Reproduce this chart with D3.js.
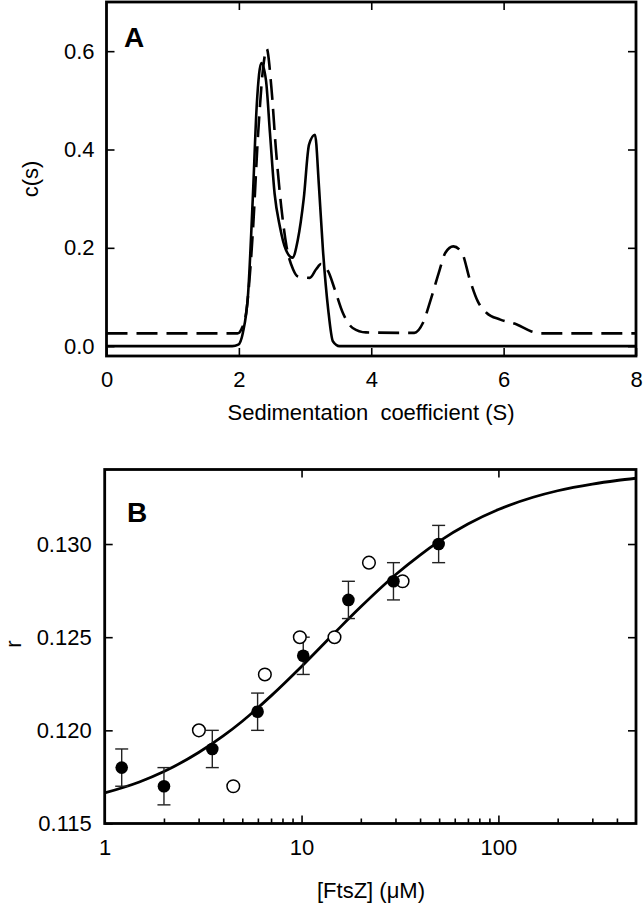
<!DOCTYPE html>
<html>
<head>
<meta charset="utf-8">
<script src="https://cdn.jsdelivr.net/npm/d3@7"></script>
<style>
  body { margin: 0; background: #fff; }
  svg { display: block; }
  text { font-family: "Liberation Sans", Arial, sans-serif; fill: #000; }
</style>
</head>
<body>
<svg id="chart" width="644" height="906"></svg>
<script>
// ---------- Panel A data: c(s) distributions ----------
const solidS = [0, 1.9, 1.99, 2.06, 2.14, 2.21, 2.27, 2.34, 2.41, 2.47, 2.54, 2.62, 2.71, 2.81, 2.89, 2.98, 3.06, 3.15, 3.21, 3.27, 3.35, 3.42, 3.52, 8];
const solidC = [0, 0, 0.003, 0.027, 0.108, 0.30, 0.49, 0.576, 0.54, 0.433, 0.31, 0.243, 0.196, 0.18, 0.216, 0.30, 0.41, 0.43, 0.325, 0.196, 0.074, 0.01, 0, 0];

const dashS = [0, 1.98, 2.04, 2.11, 2.21, 2.29, 2.37, 2.42, 2.49, 2.56, 2.64, 2.72, 2.82, 2.89, 3.07, 3.17, 3.24, 3.35, 3.45, 3.57, 3.72, 3.92, 4.65, 4.78, 4.90, 5.02, 5.12, 5.24, 5.37, 5.49, 5.61, 5.74, 5.95, 6.2, 6.42, 6.57, 8];
const dashC = [0.026, 0.026, 0.035, 0.068, 0.23, 0.43, 0.57, 0.605, 0.528, 0.40, 0.284, 0.203, 0.156, 0.142, 0.139, 0.157, 0.167, 0.152, 0.115, 0.068, 0.037, 0.028, 0.027, 0.047, 0.095, 0.149, 0.19, 0.203, 0.19, 0.135, 0.091, 0.068, 0.054, 0.044, 0.030, 0.026, 0.026];

const aXTicks = [0, 2, 4, 6, 8];
const aYTicks = [0.0, 0.2, 0.4, 0.6];

// ---------- Panel B data: anisotropy r vs [FtsZ] ----------
const filledX = [1.22, 2.0, 3.52, 5.98, 10.2, 17.3, 29.3, 49.7];
const filledR = [0.118, 0.117, 0.119, 0.121, 0.124, 0.127, 0.128, 0.130];
const filledErr = [0.001, 0.001, 0.001, 0.001, 0.001, 0.001, 0.001, 0.001];

const openX = [3.01, 4.5, 6.51, 9.8, 14.7, 22.0, 32.6];
const openR = [0.120, 0.117, 0.123, 0.125, 0.125, 0.129, 0.128];

const fitX = [1, 1.5, 2, 3, 4, 5, 7, 10, 15, 20, 30, 40, 50, 70, 100, 150, 200, 300, 400, 500];
const fitR = [0.11664, 0.11723, 0.11779, 0.11881, 0.11970, 0.12049, 0.12185, 0.12343, 0.12532, 0.12663, 0.12835, 0.12941, 0.13014, 0.13107, 0.13185, 0.13251, 0.13286, 0.13322, 0.13341, 0.13353];

const bXTicks = [1, 10, 100];
const bXMinor = [2,3,4,5,6,7,8,9,20,30,40,50,60,70,80,90,200,300,400];
const bYTicks = [0.115, 0.120, 0.125, 0.130];

// ---------- drawing ----------
const svg = d3.select("#chart");
const FS = 22;

function frame(g, x0, y0, x1, y1) {
  g.append("rect").attr("x", x0).attr("y", y0).attr("width", x1 - x0).attr("height", y1 - y0)
    .attr("fill", "none").attr("stroke", "#000").attr("stroke-width", 2.8);
}
function styleAxis(sel, withText) {
  sel.select(".domain").remove();
  sel.selectAll(".tick line").attr("stroke", "#000").attr("stroke-width", 1.6);
  sel.selectAll(".tick text").style("font-size", FS + "px").style("font-family", '"Liberation Sans", Arial, sans-serif').attr("fill", "#000");
  if (!withText) sel.selectAll(".tick text").remove();
}

// Panel A
const A = { l: 106.5, r: 636, t: 2, b: 356 };
const xA = d3.scaleLinear().domain([0, 8]).range([A.l, A.r]);
const yA = d3.scaleLinear().domain([-0.02, 0.7]).range([A.b, A.t]);
const gA = svg.append("g");

svg.append("defs").append("clipPath").attr("id", "clipA").append("rect")
  .attr("x", A.l).attr("y", A.t).attr("width", A.r - A.l).attr("height", A.b - A.t);

const lineA = d3.line().x(d => xA(d[0])).y(d => yA(d[1])).curve(d3.curveMonotoneX);
gA.append("path").datum(dashS.map((s, i) => [s, dashC[i]]))
  .attr("d", lineA).attr("fill", "none").attr("stroke", "#000").attr("stroke-width", 2.6)
  .attr("stroke-dasharray", "21,9").attr("clip-path", "url(#clipA)");
gA.append("path").datum(solidS.map((s, i) => [s, solidC[i]]))
  .attr("d", lineA).attr("fill", "none").attr("stroke", "#000").attr("stroke-width", 2.6)
  .attr("clip-path", "url(#clipA)");

gA.append("g").attr("transform", `translate(0,${A.b})`)
  .call(d3.axisBottom(xA).tickValues(aXTicks).tickFormat(d3.format("d")).tickSize(-8).tickPadding(15.5))
  .call(s => styleAxis(s, true));
gA.append("g").attr("transform", `translate(0,${A.t})`)
  .call(d3.axisTop(xA).tickValues(aXTicks.slice(1, -1)).tickSize(-8))
  .call(s => styleAxis(s, false));
gA.append("g").attr("transform", `translate(${A.l},0)`)
  .call(d3.axisLeft(yA).tickValues(aYTicks).tickFormat(d3.format(".1f")).tickSize(-8).tickPadding(12))
  .call(s => styleAxis(s, true));
gA.append("g").attr("transform", `translate(${A.r},0)`)
  .call(d3.axisRight(yA).tickValues(aYTicks).tickSize(-8))
  .call(s => styleAxis(s, false));
frame(gA, A.l, A.t, A.r, A.b);

gA.append("text").attr("x", 124).attr("y", 47).style("font-size", "28px").style("font-weight", "bold").text("A");
gA.append("text").attr("x", 371).attr("y", 420).attr("text-anchor", "middle")
  .style("font-size", FS + "px").style("white-space", "pre").attr("xml:space", "preserve").text("Sedimentation  coefficient (S)");
gA.append("text").attr("transform", "translate(38,179) rotate(-90)").attr("text-anchor", "middle")
  .style("font-size", FS + "px").text("c(s)");

// Panel B
const B = { l: 104.7, r: 636, t: 469.5, b: 823.5 };
const xB = d3.scaleLog().domain([1, 500]).range([B.l, B.r]);
const yB = d3.scaleLinear().domain([0.115, 0.134]).range([B.b, B.t]);
const gB = svg.append("g");

svg.select("defs").append("clipPath").attr("id", "clipB").append("rect")
  .attr("x", B.l).attr("y", B.t).attr("width", B.r - B.l).attr("height", B.b - B.t);

const lineB = d3.line().x(d => xB(d[0])).y(d => yB(d[1])).curve(d3.curveMonotoneX);
gB.append("path").datum(fitX.map((x, i) => [x, fitR[i]]))
  .attr("d", lineB).attr("fill", "none").attr("stroke", "#000").attr("stroke-width", 2.8)
  .attr("clip-path", "url(#clipB)");

// error bars
const eb = gB.append("g").attr("stroke", "#222").attr("stroke-width", 1.4);
filledX.forEach((x, i) => {
  const cx = xB(x), y1 = yB(filledR[i] - filledErr[i]), y2 = yB(filledR[i] + filledErr[i]);
  eb.append("line").attr("x1", cx).attr("x2", cx).attr("y1", y1).attr("y2", y2);
  eb.append("line").attr("x1", cx - 6.5).attr("x2", cx + 6.5).attr("y1", y1).attr("y2", y1);
  eb.append("line").attr("x1", cx - 6.5).attr("x2", cx + 6.5).attr("y1", y2).attr("y2", y2);
});

gB.append("g").selectAll("circle").data(openX.map((x, i) => [x, openR[i]])).join("circle")
  .attr("cx", d => xB(d[0])).attr("cy", d => yB(d[1])).attr("r", 6.3)
  .attr("fill", "#fff").attr("stroke", "#000").attr("stroke-width", 1.5);
gB.append("g").selectAll("circle").data(filledX.map((x, i) => [x, filledR[i]])).join("circle")
  .attr("cx", d => xB(d[0])).attr("cy", d => yB(d[1])).attr("r", 6.3).attr("fill", "#000");

gB.append("g").attr("transform", `translate(0,${B.b})`)
  .call(d3.axisBottom(xB).tickValues(bXTicks).tickFormat(d3.format("d")).tickSize(-8).tickPadding(16))
  .call(s => styleAxis(s, true));
gB.append("g").attr("transform", `translate(0,${B.b})`)
  .call(d3.axisBottom(xB).tickValues(bXMinor).tickSize(-5))
  .call(s => styleAxis(s, false));
gB.append("g").attr("transform", `translate(0,${B.t})`)
  .call(d3.axisTop(xB).tickValues([10, 100]).tickSize(-8))
  .call(s => styleAxis(s, false));
gB.append("g").attr("transform", `translate(${B.l},0)`)
  .call(d3.axisLeft(yB).tickValues(bYTicks).tickFormat(d3.format(".3f")).tickSize(-8).tickPadding(13))
  .call(s => styleAxis(s, true));
gB.append("g").attr("transform", `translate(${B.r},0)`)
  .call(d3.axisRight(yB).tickValues(bYTicks.slice(1)).tickSize(-8))
  .call(s => styleAxis(s, false));
frame(gB, B.l, B.t, B.r, B.b);

gB.append("text").attr("x", 127).attr("y", 522).style("font-size", "28px").style("font-weight", "bold").text("B");
gB.append("text").attr("x", 371).attr("y", 898).attr("text-anchor", "middle")
  .style("font-size", FS + "px").text("[FtsZ] (\u03bcM)");
gB.append("text").attr("transform", "translate(21,644) rotate(-90)").attr("text-anchor", "middle")
  .style("font-size", FS + "px").text("r");
</script>
</body>
</html>
